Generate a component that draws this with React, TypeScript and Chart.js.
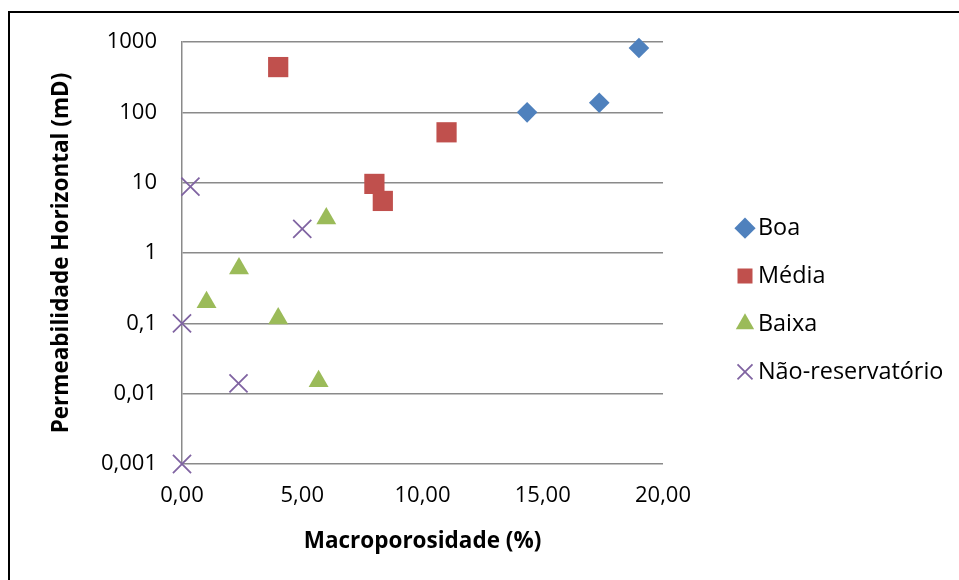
import React, { useEffect, useRef } from "react";
import { Chart, registerables } from "chart.js";

Chart.register(...registerables);

const seriesNames = ["Boa", "Média", "Baixa", "Não-reservatório"];
const seriesColors = ["#4F81BD", "#C0504D", "#9BBB59", "#8064A2"];

const boaX = [14.35, 17.35, 19.0];
const boaY = [100, 137, 820];

const mediaX = [4.0, 11.0, 8.0, 8.35];
const mediaY = [440, 52, 9.6, 5.5];

const baixaX = [6.0, 2.37, 1.02, 4.0, 5.68];
const baixaY = [3.1, 0.6, 0.2, 0.117, 0.015];

const naoX = [0.35, 5.0, 0.0, 2.35, 0.0];
const naoY = [8.8, 2.2, 0.1, 0.014, 0.001];

const yTicks = [0.001, 0.01, 0.1, 1, 10, 100, 1000];
const xTicks = [0, 5, 10, 15, 20];

const xTitle = "Macroporosidade (%)";
const yTitle = "Permeabilidade Horizontal (mD)";

const FONT = "'Open Sans'";
const TICK_SIZE = 22;
const LEGEND_SIZE = 23.4;
const TITLE_SIZE = 22.5;
const LEGEND_PAD = 24.5;

const toPoints = (xs: number[], ys: number[]) => xs.map((x, i) => ({ x, y: ys[i] }));

export default function App() {
  const ref = useRef<HTMLCanvasElement | null>(null);

  useEffect(() => {
    if (!ref.current) return;
    const m = document.createElement("canvas").getContext("2d")!;
    m.font = `${LEGEND_SIZE}px ${FONT}`;
    let maxW = 0;
    seriesNames.forEach((n) => {
      maxW = Math.max(maxW, m.measureText(n).width);
    });
    const boxW = 26 - LEGEND_SIZE;
    const legendLeft = 758 - LEGEND_PAD - boxW - LEGEND_SIZE / 2;
    const legendW = LEGEND_PAD + boxW + LEGEND_SIZE / 2 + maxW + 10;
    const padRight = 959 - legendLeft - legendW;
    const gapW = legendLeft - 663;

    const borderPlugin = {
      id: "outerBorder",
      afterDraw(chart: any) {
        const c = chart.ctx;
        c.save();
        c.fillStyle = "#000";
        c.fillRect(8, 11, 951, 2);
        c.fillRect(8, 11, 2, 569);
        c.restore();
      },
    };

    const chart = new Chart(ref.current, {
      type: "scatter",
      data: {
        datasets: [
          {
            label: seriesNames[0],
            data: toPoints(boaX, boaY),
            pointStyle: "rectRot",
            pointRadius: 10.3,
            backgroundColor: seriesColors[0],
            borderColor: seriesColors[0],
            borderWidth: 0,
            clip: false,
          },
          {
            label: seriesNames[1],
            data: toPoints(mediaX, mediaY),
            pointStyle: "rect",
            pointRadius: 14.3,
            backgroundColor: seriesColors[1],
            borderColor: seriesColors[1],
            borderWidth: 0,
            clip: false,
          },
          {
            label: seriesNames[2],
            data: toPoints(baixaX, baixaY),
            pointStyle: "triangle",
            pointRadius: 11.5,
            backgroundColor: seriesColors[2],
            borderColor: seriesColors[2],
            borderWidth: 0,
            clip: false,
          },
          {
            label: seriesNames[3],
            data: toPoints(naoX, naoY),
            pointStyle: "crossRot",
            pointRadius: 12.8,
            backgroundColor: seriesColors[3],
            borderColor: seriesColors[3],
            borderWidth: 1.8,
            clip: false,
          },
        ],
      },
      options: {
        responsive: false,
        animation: false,
        devicePixelRatio: 1,
        layout: { padding: { left: 8, top: 42, right: padRight, bottom: 22 } },
        plugins: {
          tooltip: { enabled: false },
          legend: {
            position: "right",
            align: "center",
            fullSize: true,
            maxWidth: 400,
            labels: {
              usePointStyle: true,
              boxWidth: boxW,
              boxHeight: 15,
              padding: LEGEND_PAD,
              color: "#000",
              font: { family: FONT, size: LEGEND_SIZE },
            },
          },
        },
        scales: {
          x: {
            type: "linear",
            min: 0,
            max: 20,
            afterBuildTicks: (s: any) => {
              s.ticks = xTicks.map((v) => ({ value: v }));
            },
            afterFit: (s: any) => {
              s.height = 94;
            },
            grid: { display: false, drawTicks: false },
            border: { display: false },
            ticks: {
              padding: 19,
              color: "#000",
              font: { family: FONT, size: TICK_SIZE },
              maxRotation: 0,
              callback: (v: any) => Number(v).toFixed(2).replace(".", ","),
            },
            title: {
              display: true,
              text: xTitle,
              color: "#000",
              font: { family: FONT, size: TITLE_SIZE, weight: "bold" },
              padding: { top: 0, bottom: 3 },
            },
          },
          y: {
            type: "logarithmic",
            min: 0.001,
            max: 1000,
            afterBuildTicks: (s: any) => {
              s.ticks = yTicks.map((v) => ({ value: v }));
            },
            afterFit: (s: any) => {
              s.width = 174;
            },
            grid: { color: "#8a8a8a", lineWidth: 1.5, drawTicks: false },
            border: { display: true, color: "#8a8a8a", width: 1.5 },
            ticks: {
              padding: 25,
              color: "#000",
              font: { family: FONT, size: TICK_SIZE },
              callback: (v: any) => String(Number(v)).replace(".", ","),
            },
            title: {
              display: true,
              text: yTitle,
              color: "#000",
              font: { family: FONT, size: TITLE_SIZE, weight: "bold" },
              padding: { top: 40, bottom: 0 },
            },
          },
          gap: {
            type: "linear",
            position: "right",
            display: true,
            grid: { display: false, drawTicks: false },
            border: { display: false },
            ticks: { display: false },
            afterFit: (s: any) => {
              s.width = gapW;
            },
          },
        },
      },
      plugins: [borderPlugin],
    } as any);

    return () => chart.destroy();
  }, []);

  return (
    <div style={{ position: "fixed", left: 0, top: 0, width: 959, height: 580, background: "#fff" }}>
      <canvas ref={ref} width={959} height={580} />
    </div>
  );
}
